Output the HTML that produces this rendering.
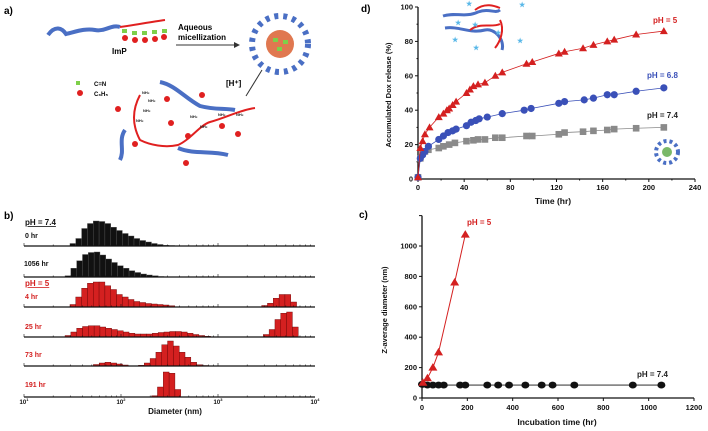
<!DOCTYPE html>
<html><head><meta charset="utf-8">
<style>
html,body{margin:0;padding:0;background:#fff;}
svg{display:block;font-family:"Liberation Sans",Arial,sans-serif;font-weight:bold;}
</style></head>
<body>
<svg id="fig" width="708" height="431" viewBox="0 0 708 431">
  <g>
    <text x="4" y="14" font-size="10">a)</text>
    <path d="M48,35 C55,25 62,28 66,34 C75,32 85,28 95,30 C105,32 112,24 120,27" stroke="#4a6fc4" stroke-width="4" fill="none"/>
    <path d="M120,27 C135,25 150,22 165,20" stroke="#e02020" stroke-width="2" fill="none"/>
    <g fill="#e02020">
      <circle cx="125" cy="38" r="3"/><circle cx="135" cy="40" r="3"/><circle cx="145" cy="40" r="3"/><circle cx="155" cy="39" r="3"/><circle cx="164" cy="37" r="3"/>
    </g>
    <g fill="#7ed04a"><rect x="122" y="29" width="5" height="4"/><rect x="132" y="31" width="5" height="4"/><rect x="142" y="31" width="5" height="4"/><rect x="152" y="30" width="5" height="4"/><rect x="162" y="29" width="5" height="4"/></g>
    <text x="112" y="54" font-size="8">ImP</text>
    <text x="178" y="30" font-size="8">Aqueous</text>
    <text x="178" y="40" font-size="8">micellization</text>
    <line x1="176" y1="45" x2="236" y2="45" stroke="#333" stroke-width="1"/>
    <polygon points="240,45 234,42 234,48" fill="#333"/>
    <circle cx="280" cy="44" r="14" fill="#e07850"/>
    <circle cx="280" cy="44" r="28" fill="none" stroke="#4a6fc4" stroke-width="6" stroke-dasharray="4 5"/>
    <g fill="#7ed04a"><rect x="273" y="38" width="5" height="4"/><rect x="283" y="40" width="5" height="4"/><rect x="277" y="47" width="5" height="4"/></g>
    <line x1="262" y1="70" x2="246" y2="96" stroke="#333"/>
    <text x="226" y="86" font-size="8">[H⁺]</text>
    <rect x="76" y="81" width="4" height="4" fill="#7ed04a"/><text x="94" y="86" font-size="6">C=N</text>
    <circle cx="80" cy="93" r="3" fill="#e02020"/><text x="94" y="96" font-size="6">C₆H₅</text>
    <path d="M140,95 C132,110 132,125 140,140 C150,145 165,148 178,145 C190,140 200,125 210,122 C225,118 240,110 255,108" stroke="#e02020" stroke-width="2" fill="none"/>
    <path d="M160,82 C175,85 185,98 200,106 C215,110 225,108 235,110 M125,130 C118,140 125,150 120,160 M178,148 C195,155 210,150 228,155" stroke="#4a6fc4" stroke-width="4" fill="none"/>
    <g fill="#e02020"><circle cx="118" cy="109" r="3"/><circle cx="167" cy="99" r="3"/><circle cx="202" cy="95" r="3"/><circle cx="171" cy="123" r="3"/><circle cx="188" cy="136" r="3"/><circle cx="222" cy="126" r="3"/><circle cx="238" cy="134" r="3"/><circle cx="135" cy="144" r="3"/><circle cx="186" cy="163" r="3"/></g>
    <g font-size="4" fill="#222"><text x="142" y="94">NH₂</text><text x="148" y="102">NH₂</text><text x="143" y="112">NH₂</text><text x="136" y="122">NH₂</text><text x="190" y="118">NH₂</text><text x="200" y="128">NH₂</text><text x="218" y="116">NH₂</text><text x="236" y="116">NH₂</text></g>
  </g>

  <g id="panelB">
    <text x="4" y="219" font-size="10">b)</text>
  </g>
  <g id="panelD">
    <text x="361" y="12" font-size="10">d)</text>
  </g>
  <g id="panelC">
    <text x="359" y="218" font-size="10">c)</text>
  </g>
</svg>
<script>
const bRowLabels = ["0 hr","1056 hr","4 hr","25 hr","73 hr","191 hr"];
const bRowColors = ["#111","#111","#d42020","#d42020","#d42020","#d42020"];
const bRow0Start = [1.474];
const bRow0Heights = [[0.1,0.3,0.7,0.9,1.0,0.98,0.9,0.75,0.62,0.5,0.4,0.3,0.22,0.16,0.1,0.06,0.03,0.02]];
const bRow1Start = [1.423];
const bRow1Heights = [[0.05,0.35,0.65,0.9,0.98,1.0,0.88,0.72,0.58,0.45,0.35,0.25,0.18,0.12,0.08,0.05,0.02]];
const bRow2Start = [1.474,3.45];
const bRow2Heights = [[0.1,0.4,0.75,0.95,1.0,1.0,0.85,0.7,0.5,0.4,0.3,0.22,0.18,0.14,0.12,0.1,0.08,0.05],[0.06,0.15,0.35,0.5,0.5,0.2]];
const bRow3Start = [1.423,3.467];
const bRow3Heights = [[0.06,0.2,0.35,0.42,0.45,0.45,0.4,0.35,0.3,0.25,0.2,0.15,0.12,0.12,0.12,0.15,0.18,0.2,0.22,0.22,0.2,0.15,0.1,0.06,0.03,0.01],[0.1,0.3,0.7,0.95,1.0,0.4]];
const bRow4Start = [1.715,2.18];
const bRow4Heights = [[0.06,0.12,0.15,0.12,0.08,0.04],[0.03,0.12,0.3,0.55,0.85,1.0,0.8,0.55,0.35,0.15,0.05,0.02]];
const bRow5Start = [2.316];
const bRow5Heights = [[0.05,0.4,1.0,0.95,0.3]];
const bTickExp = [1,2,3,4];

const NS="http://www.w3.org/2000/svg";
function mk(tag,attrs,parent,txt){const e=document.createElementNS(NS,tag);for(const k in attrs)e.setAttribute(k,attrs[k]);if(txt!==undefined)e.textContent=txt;parent.appendChild(e);return e;}

(function(){
  const g=document.getElementById('panelB');
  const x0=24,x1=315,lg0=1,lg1=4;
  const bx=l=>x0+(l-lg0)/(lg1-lg0)*(x1-x0);
  const base=[246,277,307,337,366,397];
  const maxH=25, w=0.06;
  const starts=[bRow0Start,bRow1Start,bRow2Start,bRow3Start,bRow4Start,bRow5Start];
  const heights=[bRow0Heights,bRow1Heights,bRow2Heights,bRow3Heights,bRow4Heights,bRow5Heights];
  for(let r=0;r<6;r++){
    starts[r].forEach((s,si)=>{
      heights[r][si].forEach((h,i)=>{
        const l=s+i*w;
        const rc=mk('rect',{x:bx(l),y:base[r]-h*maxH,width:bx(l+w)-bx(l),height:h*maxH,fill:bRowColors[r],stroke:r<2?'#555':'#600','stroke-width':0.4},g);
        
        
      });
    });
    const ln=mk('line',{x1:x0,x2:x1,y1:base[r],y2:base[r],stroke:'#111','stroke-width':1.2},g);
    
    
    for(let d=1;d<4;d++)for(let m=1;m<10;m++){const xx=bx(d+Math.log10(m));mk('line',{x1:xx,x2:xx,y1:base[r],y2:base[r]-(m===1?3:1.5),stroke:'#111','stroke-width':0.6},g);}
    const t=mk('text',{x:r===1?24:25,y:[238,266,299,329,357,387][r],'font-size':7,fill:bRowColors[r]},g,bRowLabels[r]);
    
    
  }
  const a=mk('text',{x:25,y:225,'font-size':8,fill:'#111','text-decoration':'underline'},g,'pH = 7.4');
  
  
  const b=mk('text',{x:25,y:286,'font-size':8,fill:'#d42020','text-decoration':'underline'},g,'pH = 5');
  
  
  bTickExp.forEach(e=>{
    const t=mk('text',{x:bx(e),y:404,'font-size':6,'text-anchor':'middle',fill:'#111'},g);
    
    
    t.textContent='10';mk('tspan',{dy:-3,'font-size':4},t,String(e));
  });
  const xt=mk('text',{x:175,y:414,'font-size':8,'text-anchor':'middle',fill:'#111'},g,'Diameter (nm)');
  
  
})();

const dTicksX=[0,40,80,120,160,200,240];
const dTicksY=[0,20,40,60,80,100];
const dPh5T=[0,2,4,6,10,18,22,25,27,30,33,42,45,48,52,58,67,73,94,99,122,127,143,152,164,170,189,213];
const dPh5V=[1,18,22,26,30,36,38,40,41,43,45,50,52,54,55,56,60,62,67,68,73,74,76,78,80,81,84,86];
const dPh68T=[0,2,4,6,9,18,22,26,30,33,42,46,50,53,60,73,92,98,122,127,144,152,164,170,189,213];
const dPh68V=[1,12,14,16,19,23,25,27,28,29,31,33,34,35,36,38,40,41,44,45,46,47,49,49,51,53];
const dPh74T=[0,2,4,6,9,18,22,27,32,42,48,52,58,67,73,94,99,122,127,143,152,164,170,189,213];
const dPh74V=[1,12,15,16,17,18,19,20,21,22,22.5,23,23,24,24,25,25,26,27,27.5,28,28.5,29,29.5,30];

(function(){
  const g=document.getElementById('panelD');
  const X=v=>418+v/240*(695-418), Y=v=>179-v/100*172;
  const ax=mk('path',{d:`M${X(0)},${Y(100)} L${X(0)},${Y(0)} L${X(240)},${Y(0)}`,stroke:'#111','stroke-width':1.3,fill:'none'},g);
  
  
  dTicksX.forEach(v=>{mk('line',{x1:X(v),x2:X(v),y1:Y(0),y2:Y(0)+3,stroke:'#111'},g);
    const t=mk('text',{x:X(v),y:190,'font-size':7.5,'text-anchor':'middle',fill:'#111'},g,String(v));
    
    });
  for(let v=20;v<240;v+=40)mk('line',{x1:X(v),x2:X(v),y1:Y(0),y2:Y(0)+1.5,stroke:'#111'},g);
  dTicksY.forEach(v=>{mk('line',{x1:X(0)-3,x2:X(0),y1:Y(v),y2:Y(v),stroke:'#111'},g);
    const t=mk('text',{x:X(0)-5,y:Y(v)+2.5,'font-size':7.5,'text-anchor':'end',fill:'#111'},g,String(v));
    
    });
  for(let v=10;v<100;v+=20)mk('line',{x1:X(0)-1.5,x2:X(0),y1:Y(v),y2:Y(v),stroke:'#111'},g);
  const xt=mk('text',{x:553,y:204,'font-size':8.5,'text-anchor':'middle',fill:'#111'},g,'Time (hr)');
  
  
  const yt=mk('text',{x:0,y:0,'font-size':7.5,'text-anchor':'middle',fill:'#111',transform:'translate(391,95) rotate(-90)'},g,'Accumulated Dox release (%)');
  
  
  function series(T,V,color,shape,name){
    const pl=mk('polyline',{points:T.map((t,i)=>X(t)+','+Y(V[i])).join(' '),stroke:color,'stroke-width':0.8,fill:'none'},g);
    
    
    T.forEach((t,i)=>{const x=X(t),y=Y(V[i]);let m;
      if(shape==='tri')m=mk('polygon',{points:`${x},${y-4} ${x-4},${y+3} ${x+4},${y+3}`,fill:color},g);
      else if(shape==='sq')m=mk('rect',{x:x-3.3,y:y-3.3,width:6.6,height:6.6,fill:color},g);
      else m=mk('circle',{cx:x,cy:y,r:3.6,fill:color},g);
      
      });
  }
  series(dPh74T,dPh74V,'#8a8a8a','sq','ph74');
  series(dPh68T,dPh68V,'#3a50b8','circ','ph68');
  series(dPh5T,dPh5V,'#d42020','tri','ph5');
  [['pH = 5',653,23,'#d42020'],['pH = 6.8',647,78,'#3a50b8'],['pH = 7.4',647,118,'#222']].forEach(l=>{
    const t=mk('text',{x:l[1],y:l[2],'font-size':8,fill:l[3]},g,l[0]);
    
    });
  const ins=mk('g',{},g);
  
  
  mk('path',{d:'M443,16 C455,12 465,18 478,12 C490,8 495,14 500,10 M445,28 C460,26 470,34 485,30 C495,28 505,40 502,50',stroke:'#4a6fc4','stroke-width':3,fill:'none'},ins);
  mk('path',{d:'M475,10 C485,2 495,6 500,8 M470,30 C480,22 492,28 500,24 M500,20 C505,30 500,42 495,48',stroke:'#e02020','stroke-width':2,fill:'none'},ins);
  [[466,6],[519,7],[455,25],[472,27],[452,42],[473,50],[495,35],[517,43]].forEach(p=>mk('text',{x:p[0],y:p[1],'font-size':7,fill:'#5ab8e8'},ins,'★'));
  mk('circle',{cx:667,cy:152,r:5,fill:'#7ab868'},ins);
  mk('circle',{cx:667,cy:152,r:11,fill:'none',stroke:'#4a6fc4','stroke-width':4,'stroke-dasharray':'3 3'},ins);
})();

const cTicksX=[0,200,400,600,800,1000,1200];
const cTicksY=[0,200,400,600,800,1000,1200];
const cPh5T=[4,24,48,73,144,191];
const cPh5V=[100,130,200,300,760,1075];
const cPh74T=[0,4,24,48,73,96,168,191,288,336,384,456,528,576,672,930,1056];
const cPh74V=[90,90,85,85,85,85,85,85,85,85,85,85,85,85,85,85,85];

(function(){
  const g=document.getElementById('panelC');
  const X=v=>422+v/1200*(694-422), Y=v=>398-v/1000*152;
  const ax=mk('path',{d:`M${X(0)},${Y(1200)} L${X(0)},${Y(0)} L${X(1200)},${Y(0)}`,stroke:'#111','stroke-width':1.3,fill:'none'},g);
  
  
  cTicksX.forEach(v=>{mk('line',{x1:X(v),x2:X(v),y1:Y(0),y2:Y(0)+3,stroke:'#111'},g);
    const t=mk('text',{x:X(v),y:410,'font-size':7.5,'text-anchor':'middle',fill:'#111'},g,String(v));
    
    });
  cTicksY.forEach(v=>{mk('line',{x1:X(0)-3,x2:X(0),y1:Y(v),y2:Y(v),stroke:'#111'},g);
    if(v<1200){const t=mk('text',{x:X(0)-5,y:Y(v)+2.5,'font-size':7.5,'text-anchor':'end',fill:'#111'},g,String(v));
    
    }});
  const xt=mk('text',{x:557,y:425,'font-size':8.5,'text-anchor':'middle',fill:'#111'},g,'Incubation time (hr)');
  
  
  const yt=mk('text',{x:0,y:0,'font-size':7.5,'text-anchor':'middle',fill:'#111',transform:'translate(387,310) rotate(-90)'},g,'Z-average diameter (nm)');
  
  
  const p1=mk('polyline',{points:cPh74T.map((t,i)=>X(t)+','+Y(cPh74V[i])).join(' '),stroke:'#111','stroke-width':0.8,fill:'none'},g);
  
  
  cPh74T.forEach((t,i)=>{const m=mk('ellipse',{cx:X(t),cy:Y(cPh74V[i]),rx:4,ry:3.4,fill:'#111'},g);
    
    });
  const p2=mk('polyline',{points:cPh5T.map((t,i)=>X(t)+','+Y(cPh5V[i])).join(' '),stroke:'#d42020','stroke-width':1,fill:'none'},g);
  
  
  cPh5T.forEach((t,i)=>{const x=X(t),y=Y(cPh5V[i]);
    const m=mk('polygon',{points:`${x},${y-4.5} ${x-4.5},${y+3} ${x+4.5},${y+3}`,fill:'#d42020'},g);
    
    });
  const l1=mk('text',{x:467,y:225,'font-size':8,fill:'#d42020'},g,'pH = 5');
  
  
  const l2=mk('text',{x:637,y:377,'font-size':8,fill:'#222'},g,'pH = 7.4');
  
  
})();
</script>
</body></html>
